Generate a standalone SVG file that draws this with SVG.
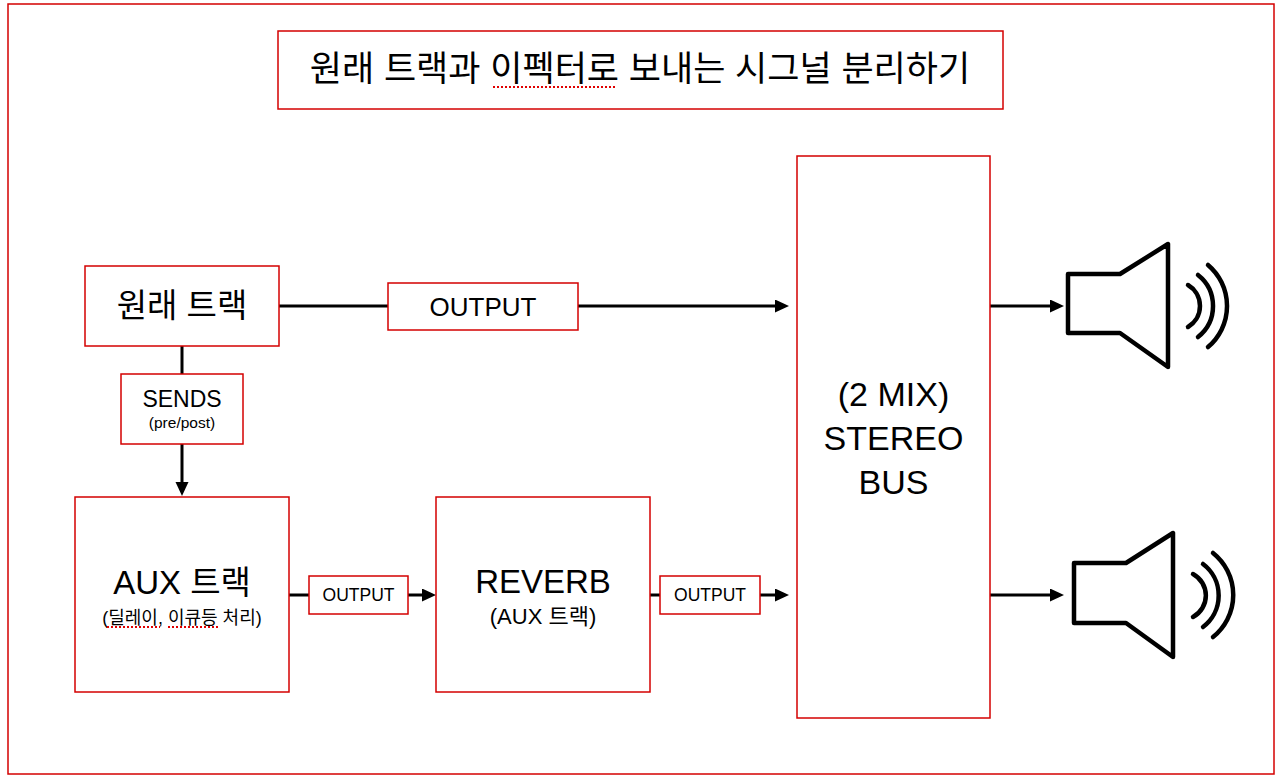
<svg xmlns="http://www.w3.org/2000/svg" width="1280" height="778" viewBox="0 0 1280 778">
<style>
  .box { fill: #ffffff; stroke: #d40000; stroke-width: 1.5; }
  .t { font-family: "Liberation Sans", "Noto Sans CJK KR", sans-serif; fill: #000000; text-anchor: middle; }
  .ln { stroke: #000000; stroke-width: 3; fill: none; }
  .spk { stroke: #000000; stroke-width: 4.5; fill: none; stroke-linejoin: round; stroke-linecap: round; }
  .sq { stroke: #e00000; stroke-width: 2; stroke-dasharray: 2 2; fill: none; }
</style>
<defs>
  <marker id="arr" markerUnits="userSpaceOnUse" markerWidth="14" markerHeight="14" refX="6" refY="6.5" orient="auto">
    <path d="M0,0 L14,6.5 L0,13 Z" fill="#000000"/>
  </marker>
</defs>
<rect x="0" y="0" width="1280" height="778" fill="#ffffff"/>
<rect id="frame" x="8" y="4" width="1266" height="770" fill="none" stroke="#d40000" stroke-width="1.5"/>

<g id="title">
  <rect class="box" x="278" y="31" width="725" height="78"/>
  <text class="t" x="640" y="81" font-size="35">원래 트랙과 이펙터로 보내는 시그널 분리하기</text>
  <line class="sq" x1="493" y1="87" x2="617" y2="87"/>
</g>

<g id="connectors">
  <line class="ln" x1="279" y1="306" x2="388" y2="306"/>
  <line class="ln" x1="578" y1="306" x2="781" y2="306" marker-end="url(#arr)"/>
  <line class="ln" x1="182" y1="346" x2="182" y2="374"/>
  <line class="ln" x1="182" y1="444" x2="182" y2="488" marker-end="url(#arr)"/>
  <line class="ln" x1="289" y1="595" x2="309" y2="595"/>
  <line class="ln" x1="408" y1="595" x2="428" y2="595" marker-end="url(#arr)"/>
  <line class="ln" x1="650" y1="595" x2="660" y2="595"/>
  <line class="ln" x1="760" y1="595" x2="781" y2="595" marker-end="url(#arr)"/>
  <line class="ln" x1="990" y1="306" x2="1056" y2="306" marker-end="url(#arr)"/>
  <line class="ln" x1="990" y1="595" x2="1056" y2="595" marker-end="url(#arr)"/>
</g>

<g id="original-track">
  <rect class="box" x="85" y="266" width="194" height="80"/>
  <text class="t" x="182" y="317" font-size="33">원래 트랙</text>
</g>

<g id="output-main">
  <rect class="box" x="388" y="283" width="190" height="47"/>
  <text class="t" x="483" y="316" font-size="26">OUTPUT</text>
</g>

<g id="sends">
  <rect class="box" x="121" y="374" width="122" height="70"/>
  <text class="t" x="182" y="407" font-size="23">SENDS</text>
  <text class="t" x="182" y="428" font-size="15.5">(pre/post)</text>
</g>

<g id="aux-track">
  <rect class="box" x="75" y="497" width="214" height="195"/>
  <text class="t" x="182" y="594" font-size="33">AUX 트랙</text>
  <text class="t" x="182" y="624" font-size="18">(딜레이, 이큐등 처리)</text>
  <line class="sq" x1="107" y1="627" x2="160" y2="627"/>
  <line class="sq" x1="168" y1="627" x2="220" y2="627"/>
</g>

<g id="output-aux">
  <rect class="box" x="309" y="576" width="99" height="38"/>
  <text class="t" x="358.5" y="601" font-size="17.5">OUTPUT</text>
</g>

<g id="reverb">
  <rect class="box" x="436" y="497" width="214" height="195"/>
  <text class="t" x="543" y="593" font-size="33">REVERB</text>
  <text class="t" x="543" y="624" font-size="22">(AUX 트랙)</text>
</g>

<g id="output-reverb">
  <rect class="box" x="660" y="576" width="100" height="38"/>
  <text class="t" x="710" y="601" font-size="17.5">OUTPUT</text>
</g>

<g id="stereo-bus">
  <rect class="box" x="797" y="156" width="193" height="562"/>
  <text class="t" x="893.5" y="406" font-size="34">(2 MIX)</text>
  <text class="t" x="893.5" y="450" font-size="34">STEREO</text>
  <text class="t" x="893.5" y="494" font-size="34">BUS</text>
</g>

<g id="speaker-top">
  <path class="spk" d="M1068,274 L1120,274 L1168,244 L1168,367 L1120,333 L1068,333 Z"/>
  <path class="spk" d="M1188,285 A24.4,24.4 0 0 1 1188,327"/>
  <path class="spk" d="M1198,275 A39.5,39.5 0 0 1 1198,337"/>
  <path class="spk" d="M1208,265 A53.7,53.7 0 0 1 1208,347"/>
</g>

<g id="speaker-bottom">
  <path class="spk" d="M1074,563 L1126,563 L1173,533 L1173,657 L1126,623 L1074,623 Z"/>
  <path class="spk" d="M1193,574 A24.4,24.4 0 0 1 1193,617"/>
  <path class="spk" d="M1203,564 A39.5,39.5 0 0 1 1203,627"/>
  <path class="spk" d="M1213,553 A53.7,53.7 0 0 1 1213,637"/>
</g>
</svg>
